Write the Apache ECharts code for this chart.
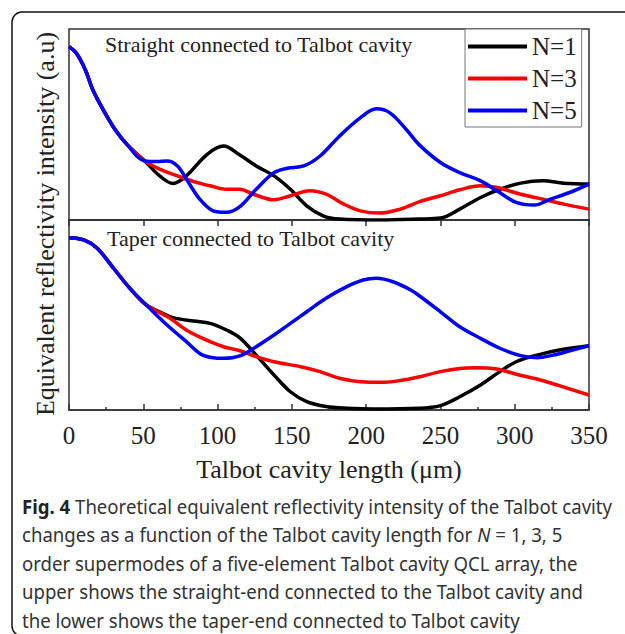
<!DOCTYPE html>
<html>
<head>
<meta charset="utf-8">
<script src="https://cdn.jsdelivr.net/npm/echarts@6/dist/echarts.min.js"></script>
<style>
html, body {margin: 0; padding: 0; background: #fff;}
#chart {width: 625px; height: 634px;}
</style>
</head>
<body>
<div id="chart"></div>
<script>
// straight-end (upper panel)
var upperN1X = [0,5,11,16,23,31,39,51,61,70,79,93,104,115,126,138,149,160,171,182,210,236,250,263,277,290,304,319,333,350];
var upperN1Y = [90.8,87.3,78.6,68.2,57.8,47.4,39.6,30.9,23.1,19.1,23.1,34.4,38.7,34,28.3,23.1,16.1,7.4,2.2,0.5,0,0.5,1,5.7,11.8,16.1,19.3,20.5,19.3,18.8];
var upperN3X = [0,5,11,16,23,31,39,51,61,73,84,95,106,115,124,138,149,162,173,185,196,209,223,236,250,263,277,288,304,319,333,350];
var upperN3Y = [90.8,87.3,78.6,68.2,57.8,47.4,39.6,30.9,26.6,23.1,20.1,17.9,16.1,16.1,13.5,10.6,12.7,15.3,13.5,8.3,4.8,3.6,5.7,9.6,12.7,15.8,17.9,17,13.5,10.9,8.3,5.7];
var upperN5X = [0,5,11,16,23,31,39,51,59,66,73,79,88,97,106,115,126,138,147,158,169,182,196,207,216,227,236,250,263,277,288,301,313,324,337,350];
var upperN5Y = [90.8,87.3,78.6,68.2,57.8,47.4,39.6,30.9,30.6,30.9,28.3,21.4,10.9,4.8,4,7,16.1,24.8,27.1,28.3,33.5,43.9,53.5,58.2,56.1,47.4,39.2,30.1,24.8,20.5,15.3,9.2,7.8,10.9,14.4,18.8];

// taper-end (lower panel)
var lowerN1X = [0,10,19,30,41,52,61,70,84,95,106,115,126,138,149,160,173,187,205,236,250,263,277,290,301,315,330,350];
var lowerN1Y = [90.7,89.5,85.1,74.6,64,55.3,51.7,48.6,46.8,45.6,42.1,38,28.9,18.4,9.6,4.4,1.8,0.9,0.5,0.9,2.3,7,13.2,20.2,25.4,28.9,31.6,33.8];
var lowerN3X = [0,10,19,30,41,52,68,79,90,104,115,126,138,156,169,182,196,212,225,236,250,263,274,288,301,315,330,350];
var lowerN3Y = [90.7,89.5,85.1,74.6,64,55.3,48.3,42.1,37.7,33.3,31.2,28.1,25.4,22.8,20.2,16.7,14.9,14.6,15.8,17.5,20.2,21.9,22.3,21.6,18.8,16.3,12.8,7.9];
var lowerN5X = [0,10,19,30,41,52,66,79,90,104,115,126,138,149,160,173,187,198,207,218,230,236,250,263,277,290,304,315,326,337,350];
var lowerN5Y = [90.7,89.5,85.1,74.6,64,55.3,44.7,36,28.9,27.2,28.5,33.3,39.5,45.6,51.7,58.8,64.9,68.4,69.3,67.5,63.2,60,51.7,43.8,37.7,32.5,28.6,27.5,28.9,31.1,33.8];

var names = ['N=1', 'N=3', 'N=5'];
var colors = ['#000000', '#ff0000', '#0000ff'];
var captionLines = [
    '{b|Fig. 4} Theoretical equivalent reflectivity intensity of the Talbot cavity',
    'changes as a function of the Talbot cavity length for {i|N} = 1, 3, 5',
    'order supermodes of a five-element Talbot cavity QCL array, the',
    'upper shows the straight-end connected to the Talbot cavity and',
    'the lower shows the taper-end connected to Talbot cavity'
];

function pairs(xs, ys) {
    return xs.map(function (x, i) { return [x, ys[i]]; });
}

var serif = '"Liberation Serif", "Times New Roman", serif';
var axisColor = '#333';

function line(name, color, grid, xs, ys) {
    return {
        name: name, type: 'line', xAxisIndex: grid, yAxisIndex: grid,
        data: pairs(xs, ys), smooth: 0.35, symbol: 'none',
        lineStyle: {color: color, width: 3.5}, itemStyle: {color: color}
    };
}

var chart = echarts.init(document.getElementById('chart'), null, {renderer: 'svg'});
var opt = {
    animation: false,
    grid: [
        {left: 69, top: 29, width: 520, height: 191, show: true, borderColor: axisColor, borderWidth: 1.5},
        {left: 69, top: 220, width: 520, height: 190, show: true, borderColor: axisColor, borderWidth: 1.5}
    ],
    xAxis: [
        {gridIndex: 0, type: 'value', min: 0, max: 350, interval: 50, show: false},
        {gridIndex: 1, type: 'value', min: 0, max: 350, interval: 50, position: 'bottom',
            axisLine: {lineStyle: {color: axisColor, width: 1.5}},
            axisTick: {inside: true, length: 6, lineStyle: {color: axisColor, width: 1.5}},
            minorTick: {show: true, splitNumber: 2, length: 3, lineStyle: {color: axisColor, width: 1.5}},
            splitLine: {show: false},
            axisLabel: {fontFamily: serif, fontSize: 25, color: '#222', margin: 13},
            name: 'Talbot cavity length (\u03bcm)', nameLocation: 'middle', nameGap: 46,
            nameTextStyle: {fontFamily: serif, fontSize: 26, color: '#222'}},
        {gridIndex: 1, type: 'value', min: 0, max: 350, interval: 50, position: 'top',
            axisLine: {lineStyle: {color: axisColor, width: 1.5}},
            axisTick: {inside: true, length: 6, lineStyle: {color: axisColor, width: 1.5}},
            axisLabel: {show: false}, splitLine: {show: false}}
    ],
    yAxis: [
        {gridIndex: 0, type: 'value', min: 0, max: 100, show: false},
        {gridIndex: 1, type: 'value', min: 0, max: 100, show: false}
    ],
    legend: {
        data: names, left: 465, top: 29, orient: 'vertical',
        padding: [5, 5, 4, 3], itemGap: 7, itemWidth: 59, itemHeight: 4, icon: 'rect',
        borderColor: '#777', borderWidth: 1, backgroundColor: '#fff',
        textStyle: {fontFamily: serif, fontSize: 25, color: '#222'}
    },
    graphic: [
        {type: 'rect', shape: {x: 12, y: 12, width: 700, height: 624, r: 10}, silent: true,
            style: {fill: 'none', stroke: '#111', lineWidth: 1.5}},
        {type: 'text', x: 105, y: 44, silent: true,
            style: {text: 'Straight connected to Talbot cavity', font: '22px ' + serif, fill: '#222', verticalAlign: 'middle'}},
        {type: 'text', x: 107, y: 238, silent: true,
            style: {text: 'Taper connected to Talbot cavity', font: '22px ' + serif, fill: '#222', verticalAlign: 'middle'}},
        {type: 'text', x: 45, y: 224, rotation: Math.PI / 2, silent: true,
            style: {text: 'Equivalent reflectivity intensity (a.u)', font: '26px ' + serif, fill: '#222', align: 'center', verticalAlign: 'middle'}}
    ],
    series: [
        line(names[0], colors[0], 0, upperN1X, upperN1Y),
        line(names[1], colors[1], 0, upperN3X, upperN3Y),
        line(names[2], colors[2], 0, upperN5X, upperN5Y),
        line(names[0], colors[0], 1, lowerN1X, lowerN1Y),
        line(names[1], colors[1], 1, lowerN3X, lowerN3Y),
        line(names[2], colors[2], 1, lowerN5X, lowerN5Y)
    ]
};

// caption under the chart, squeezed horizontally like the condensed original font
var capFont = '"Noto Sans", sans-serif';
captionLines.forEach(function (txt, i) {
    opt.graphic.push({
        type: 'text', x: 22, y: 506 + i * 28.5, scaleX: 0.93, silent: true,
        style: {
            text: txt, font: '20px ' + capFont, fill: '#333', verticalAlign: 'middle', lineHeight: 22,
            rich: {
                b: {fontFamily: capFont, fontSize: 20, fontWeight: 'bold', fill: '#222', lineHeight: 22},
                i: {fontFamily: capFont, fontSize: 20, fontStyle: 'italic', fill: '#333', lineHeight: 22}
            }
        }
    });
});

chart.setOption(opt);
</script>
</body>
</html>
